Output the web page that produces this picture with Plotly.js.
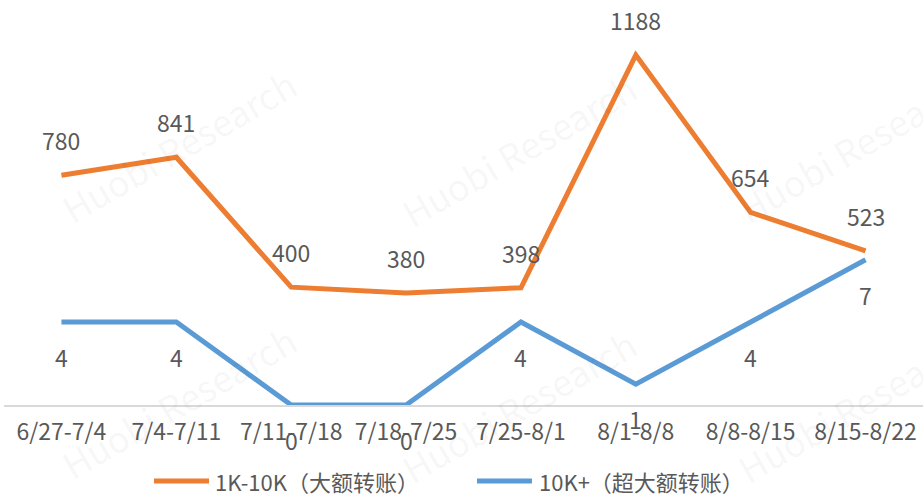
<!DOCTYPE html>
<html>
<head>
<meta charset="utf-8">
<script src="https://cdn.plot.ly/plotly-3.0.1.min.js"></script>
<style>html,body{margin:0;padding:0;background:#fff;}#chart{width:923px;height:497px;}</style>
</head>
<body>
<div id="chart"></div>
<script>
var categories = ["6/27-7/4","7/4-7/11","7/11-7/18","7/18-7/25","7/25-8/1","8/1-8/8","8/8-8/15","8/15-8/22"];
var largeTransfers = [780, 841, 400, 380, 398, 1188, 654, 523];
var hugeTransfers = [4, 4, 0, 0, 4, 1, 4, 7];
var seriesNames = ["1K-10K（大额转账）", "10K+（超大额转账）"];
var watermarkText = "Huobi Research";

var FONT = "'Noto Sans CJK SC', 'Noto Sans', sans-serif";
var TXT = "#595959";
var ORANGE = "#ED7D31";
var BLUE = "#5B9BD5";
var COLORS = [ORANGE, BLUE];

var traces = [
  {x: categories, y: largeTransfers, name: seriesNames[0], type: "scatter", mode: "lines",
   line: {color: ORANGE, width: 5}, yaxis: "y", cliponaxis: false, hoverinfo: "skip"},
  {x: categories, y: hugeTransfers, name: seriesNames[1], type: "scatter", mode: "lines",
   line: {color: BLUE, width: 5}, yaxis: "y2", cliponaxis: false, hoverinfo: "skip"}
];

var annotations = [];
// faint watermarks (drawn first)
[[0.19,0.65],[0.56,0.64],[0.926,0.65],[0.19,0.01],[0.56,0.0],[0.926,0.0]].forEach(function(p){
  annotations.push({x: p[0], y: p[1], xref: "paper", yref: "paper", xanchor: "center", yanchor: "middle",
    text: watermarkText, showarrow: false, textangle: -30,
    font: {family: FONT, size: 36, color: "rgba(0,0,0,0.05)"}});
});
categories.forEach(function(c, i){
  annotations.push({x: c, y: largeTransfers[i], xref: "x", yref: "y", text: String(largeTransfers[i]),
    showarrow: false, yshift: 35, font: {family: FONT, size: 23, color: TXT}});
  annotations.push({x: c, y: hugeTransfers[i], xref: "x", yref: "y2", text: String(hugeTransfers[i]),
    showarrow: false, yshift: -35, font: {family: FONT, size: 23, color: TXT}});
});

// manual legend (layout positions in paper fractions)
var legendItems = [
  {x0: 0.1632, x1: 0.2231, tx: 0.2274},
  {x0: 0.5147, x1: 0.5745, tx: 0.5800}
];
var legendY = -0.19;
var shapes = [];
legendItems.forEach(function(it, k){
  shapes.push({type: "line", xref: "paper", yref: "paper", x0: it.x0, x1: it.x1, y0: legendY, y1: legendY,
    line: {color: COLORS[k], width: 5}});
  annotations.push({x: it.tx, y: legendY, xref: "paper", yref: "paper", xanchor: "left", yanchor: "middle",
    text: seriesNames[k], showarrow: false, font: {family: FONT, size: 22, color: TXT}});
});

var layout = {
  width: 923, height: 497,
  margin: {l: 4, r: 0, t: 5, b: 92},
  paper_bgcolor: "#fff", plot_bgcolor: "#fff",
  showlegend: false,
  xaxis: {type: "category", range: [-0.5, 7.5], showgrid: false, zeroline: false,
    showline: true, linecolor: "#d9d9d9", linewidth: 1.5, ticks: "", ticklabelstandoff: 6,
    tickfont: {family: FONT, size: 23, color: TXT}, fixedrange: true},
  yaxis: {range: [0, 1358], visible: false, showgrid: false, zeroline: false, fixedrange: true},
  yaxis2: {range: [0, 19.28], overlaying: "y", visible: false, showgrid: false, zeroline: false, fixedrange: true},
  shapes: shapes,
  annotations: annotations
};

Plotly.newPlot("chart", traces, layout, {displayModeBar: false, staticPlot: true});
</script>
</body>
</html>
